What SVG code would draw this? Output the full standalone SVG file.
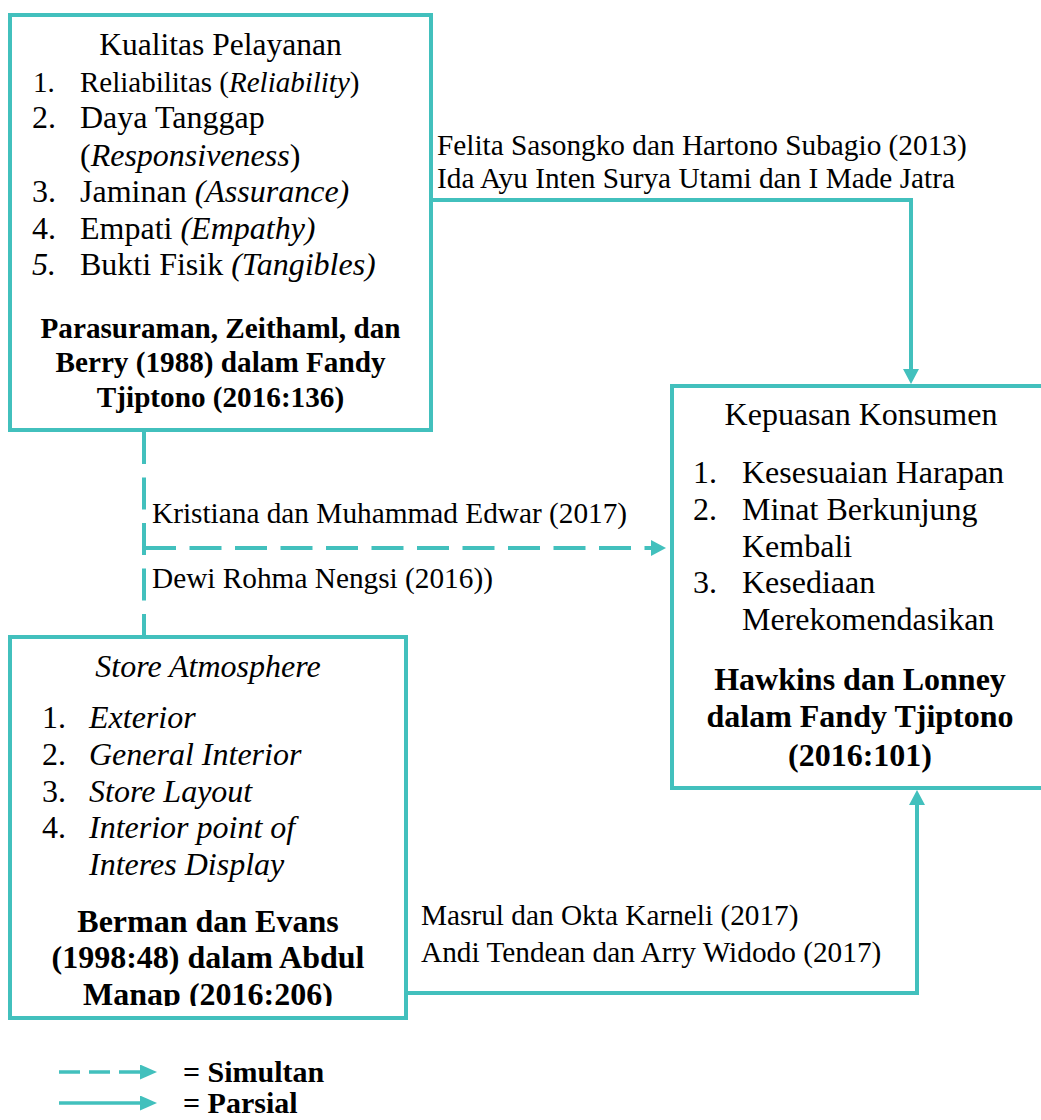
<svg xmlns="http://www.w3.org/2000/svg" width="1041" height="1120" viewBox="0 0 1041 1120">
  <defs>
    <style>
      .box { fill: #ffffff; stroke: #42C0BD; stroke-width: 4; }
      .ln { fill: none; stroke: #42C0BD; stroke-width: 4; }
      .dash { stroke-dasharray: 32 13.5; }
      .t { font-family: "Liberation Serif", "Times New Roman", serif; fill: #000000; }
      .r32 { font-size: 32px; }
      .b { font-weight: bold; }
      .i { font-style: italic; }
      .lab { font-size: 29.3px; }
      .mid { text-anchor: middle; }
    </style>
    <marker id="arr" markerUnits="userSpaceOnUse" viewBox="0 0 15 16" refX="0" refY="8" markerWidth="15" markerHeight="16" orient="auto">
      <path d="M0,0 L15,8 L0,16 z" fill="#42C0BD"/>
    </marker>
    <marker id="arrs" markerUnits="userSpaceOnUse" viewBox="0 0 17 15" refX="0" refY="7.5" markerWidth="17" markerHeight="15" orient="auto">
      <path d="M0,0 L17,7.5 L0,15 z" fill="#42C0BD"/>
    </marker>
    <clipPath id="clipManap">
      <rect x="0" y="0" width="1041" height="1006"/>
    </clipPath>
  </defs>

  <rect x="0" y="0" width="1041" height="1120" fill="#ffffff"/>

  <!-- Connectors -->
  <g id="connectors">
    <path class="ln" d="M431,200 H911 V369" marker-end="url(#arr)"/>
    <path class="ln dash" d="M144,432 V636"/>
    <path class="ln dash" d="M144,548 H651" marker-end="url(#arr)"/>
    <path class="ln" d="M406,993 H917 V805" marker-end="url(#arr)"/>
  </g>

  <!-- Node: Kualitas Pelayanan -->
  <g id="node-kualitas">
    <rect class="box" x="10" y="15" width="421" height="415"/>
    <text class="t mid" x="220.5" y="55" font-size="31.5">Kualitas Pelayanan</text>
    <text class="t" x="33" y="92" font-size="29">1.</text>
    <text class="t" x="80" y="92" font-size="29">Reliabilitas (<tspan class="i">Reliability</tspan>)</text>
    <text class="t r32" x="32" y="128">2.</text>
    <text class="t r32" x="80" y="128">Daya Tanggap</text>
    <text class="t r32" x="80" y="165.5">(<tspan class="i">Responsiveness</tspan>)</text>
    <text class="t r32" x="32" y="202">3.</text>
    <text class="t r32" x="80" y="202">Jaminan <tspan class="i">(Assurance)</tspan></text>
    <text class="t r32" x="32" y="238.5">4.</text>
    <text class="t r32" x="80" y="238.5">Empati <tspan class="i">(Empathy)</tspan></text>
    <text class="t r32 i" x="32" y="275">5.</text>
    <text class="t r32" x="80" y="275">Bukti Fisik <tspan class="i">(Tangibles)</tspan></text>
    <text class="t b mid" x="220.5" y="338" font-size="29.2">Parasuraman, Zeithaml, dan</text>
    <text class="t b mid" x="220.5" y="372" font-size="29.2">Berry (1988) dalam Fandy</text>
    <text class="t b mid" x="220.5" y="407" font-size="29.2">Tjiptono (2016:136)</text>
  </g>

  <!-- Node: Kepuasan Konsumen -->
  <g id="node-kepuasan">
    <rect class="box" x="672" y="386" width="420" height="402"/>
    <text class="t r32 mid" x="861" y="425">Kepuasan Konsumen</text>
    <text class="t r32" x="693" y="483">1.</text>
    <text class="t r32" x="742" y="483">Kesesuaian Harapan</text>
    <text class="t r32" x="693" y="520">2.</text>
    <text class="t r32" x="742" y="520">Minat Berkunjung</text>
    <text class="t r32" x="742" y="556.5">Kembali</text>
    <text class="t r32" x="693" y="593">3.</text>
    <text class="t r32" x="742" y="593">Kesediaan</text>
    <text class="t r32" x="742" y="630">Merekomendasikan</text>
    <text class="t r32 b mid" x="860" y="690">Hawkins dan Lonney</text>
    <text class="t r32 b mid" x="860" y="727">dalam Fandy Tjiptono</text>
    <text class="t r32 b mid" x="860" y="766">(2016:101)</text>
  </g>

  <!-- Node: Store Atmosphere -->
  <g id="node-store">
    <rect class="box" x="10" y="637" width="396" height="381"/>
    <text class="t r32 i mid" x="208" y="677">Store Atmosphere</text>
    <text class="t r32" x="42" y="728">1.</text>
    <text class="t r32 i" x="89" y="728">Exterior</text>
    <text class="t r32" x="42" y="765">2.</text>
    <text class="t r32 i" x="89" y="765">General Interior</text>
    <text class="t r32" x="42" y="802">3.</text>
    <text class="t r32 i" x="89" y="802">Store Layout</text>
    <text class="t r32" x="42" y="838">4.</text>
    <text class="t r32 i" x="89" y="838">Interior point of</text>
    <text class="t r32 i" x="89" y="875">Interes Display</text>
    <text class="t r32 b mid" x="208" y="932">Berman dan Evans</text>
    <text class="t r32 b mid" x="208" y="968">(1998:48) dalam Abdul</text>
    <text class="t r32 b mid" x="208" y="1005" clip-path="url(#clipManap)">Manap (2016:206)</text>
  </g>

  <!-- Connector labels -->
  <g id="connector-labels">
    <text class="t lab" x="437" y="155">Felita Sasongko dan Hartono Subagio (2013)</text>
    <text class="t lab" x="437" y="188">Ida Ayu Inten Surya Utami dan I Made Jatra</text>
    <text class="t lab" x="152" y="523">Kristiana dan Muhammad Edwar (2017)</text>
    <text class="t lab" x="152" y="588">Dewi Rohma Nengsi (2016))</text>
    <text class="t lab" x="421" y="925">Masrul dan Okta Karneli (2017)</text>
    <text class="t lab" x="421" y="962">Andi Tendean dan Arry Widodo (2017)</text>
  </g>

  <!-- Legend -->
  <g id="legend">
    <path class="ln" style="stroke-width:3.5;stroke-dasharray:21 9" d="M59,1072 H140" marker-end="url(#arrs)"/>
    <path class="ln" style="stroke-width:3.5" d="M59,1103 H140" marker-end="url(#arrs)"/>
    <text class="t b" x="183" y="1082" font-size="30">= Simultan</text>
    <text class="t b" x="183" y="1113" font-size="30">= Parsial</text>
  </g>
</svg>
